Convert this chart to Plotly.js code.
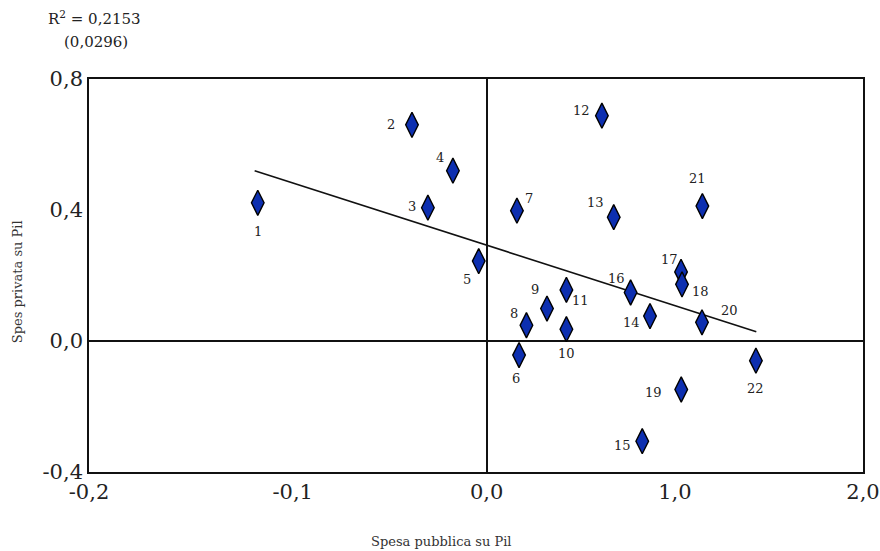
<!DOCTYPE html>
<html>
<head>
<meta charset="utf-8">
<script src="https://cdn.plot.ly/plotly-3.0.1.min.js"></script>
<style>html,body{margin:0;padding:0;background:#fff;}#chart{width:880px;height:551px;}</style>
</head>
<body>
<div id="chart"></div>
<script>
// Point labels (country numbers)
const labels = ["1","2","3","4","5","6","7","8","9","10","11","12","13","14","15","16","17","18","19","20","21","22"];
// Spesa pubblica su Pil (x, in displayed axis units)
const xVals = [-1.18,-0.385,-0.303,-0.174,-0.041,0.167,0.156,0.205,0.311,0.411,0.411,0.594,0.655,0.842,0.802,0.742,1.002,1.007,1.003,1.110,1.112,1.388];
// Spes privata su Pil (y)
const yVals = [0.422,0.660,0.407,0.520,0.244,-0.043,0.398,0.048,0.099,0.036,0.156,0.688,0.378,0.076,-0.306,0.148,0.211,0.173,-0.148,0.057,0.412,-0.060];
// Regression line end points
const trendX = [-1.196, 1.390];
const trendY = [0.520, 0.028];
// Axis ticks
const xTickVals = [-2.05,-1,0,0.97,1.94];
const xTickText = ["-0,2","-0,1","0,0","1,0","2,0"];
const yTickVals = [-0.4,0,0.4,0.8];
const yTickText = ["-0,4","0,0","0,4","0,8"];

// label offsets in pixels (layout, not data)
const labelShift = [[0,-29],[-21,0],[-16,1],[-13,13],[-12,-18],[-3,-23],[12,12],[-12,12],[-12,19],[0,-24],[14,-11],[-20,5],[-18,15],[-19,-6],[-20,-4],[-14,14],[-12,12],[18,-7],[-28,-3],[28,12],[-5,28],[0,-28]];

const serif = "DejaVu Serif, Liberation Serif, serif";

const traces = [
  {x: trendX, y: trendY, mode: "lines", type: "scatter",
   line: {color: "#111", width: 1.6}, hoverinfo: "skip"},
  {x: xVals, y: yVals, mode: "markers", type: "scatter",
   marker: {symbol: "diamond-tall", size: 18, color: "#0d2fb0", line: {color: "#000", width: 1.4}}}
];

const pointAnnots = labels.map((t, i) => ({
  x: xVals[i], y: yVals[i], xref: "x", yref: "y", text: t, showarrow: false,
  xshift: labelShift[i][0], yshift: labelShift[i][1],
  xanchor: "center", yanchor: "middle",
  font: {family: serif, size: 13, color: "#222"}
}));

const layout = {
  width: 880, height: 551,
  margin: {l: 89, r: 17, t: 79, b: 79},
  paper_bgcolor: "#fff", plot_bgcolor: "#fff",
  showlegend: false,
  xaxis: {range: [-2.05, 1.94], tickvals: xTickVals, ticktext: xTickText,
    showgrid: false, zeroline: true, zerolinecolor: "#111", zerolinewidth: 1.8,
    showline: true, linecolor: "#111", linewidth: 1.8, mirror: true, ticks: "",
    tickfont: {family: serif, size: 21, color: "#222"}},
  yaxis: {range: [-0.4, 0.8], tickvals: yTickVals, ticktext: yTickText,
    showgrid: false, zeroline: true, zerolinecolor: "#111", zerolinewidth: 1.6,
    showline: true, linecolor: "#111", linewidth: 1.8, mirror: true, ticks: "",
    tickfont: {family: serif, size: 21, color: "#222"}},
  annotations: pointAnnots.concat([
    {text: "R<sup>2</sup> = 0,2153", xref: "paper", yref: "paper", x: -0.055, y: 1.155, xanchor: "left", yanchor: "middle",
     showarrow: false, font: {family: serif, size: 15, color: "#222"}},
    {text: "(0,0296)", xref: "paper", yref: "paper", x: -0.035, y: 1.095, xanchor: "left", yanchor: "middle",
     showarrow: false, font: {family: serif, size: 15, color: "#222"}},
    {text: "Spes privata su Pil", xref: "paper", yref: "paper", x: -0.092, y: 0.485, textangle: -90,
     xanchor: "center", yanchor: "middle", showarrow: false, font: {family: serif, size: 13, color: "#333"}},
    {text: "Spesa pubblica su Pil", xref: "paper", yref: "paper", x: 0.456, y: -0.178,
     xanchor: "center", yanchor: "middle", showarrow: false, font: {family: serif, size: 13, color: "#333"}}
  ])
};

Plotly.newPlot("chart", traces, layout, {displayModeBar: false, staticPlot: true});
</script>
</body>
</html>
